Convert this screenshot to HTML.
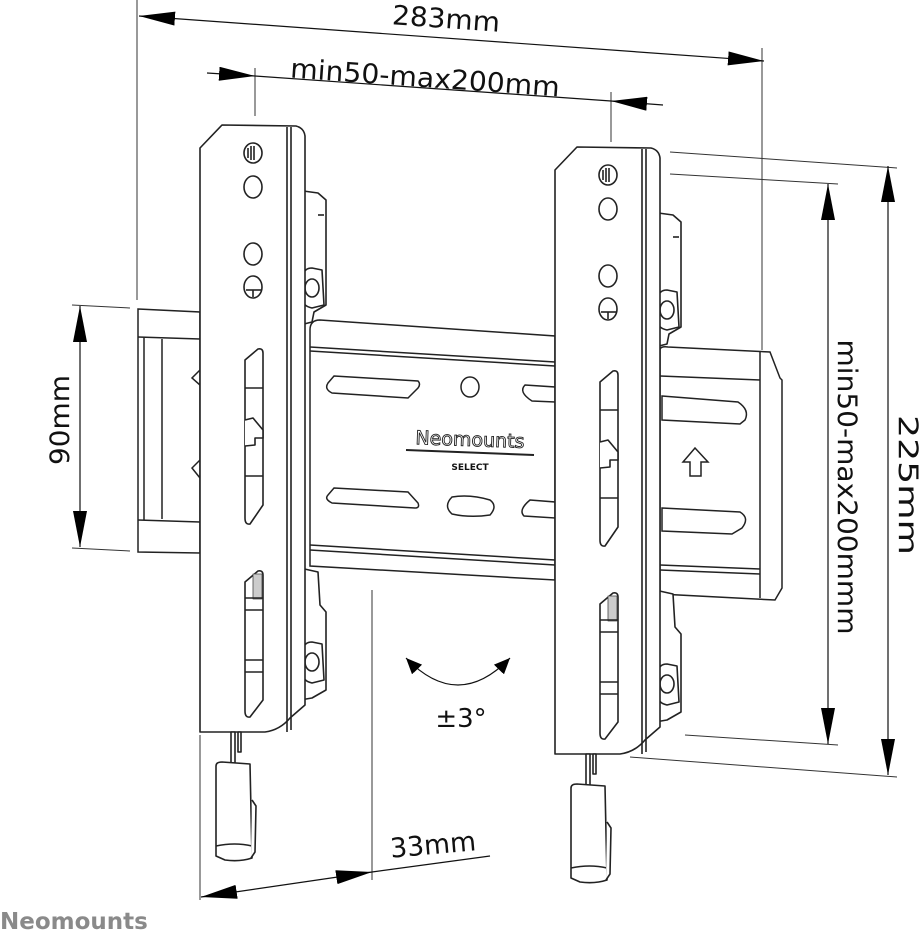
<!DOCTYPE html>
<html><head><meta charset="utf-8"><style>
html,body{margin:0;padding:0;background:#fff;}
svg{display:block;}
text{font-family:"DejaVu Sans","Liberation Sans",sans-serif;fill:#111;}
</style></head><body>
<svg width="922" height="932" viewBox="0 0 922 932" xmlns="http://www.w3.org/2000/svg">
<defs>
<g id="br" fill="#fff" stroke="#222" stroke-width="1.6" stroke-linejoin="round">
  <path d="M296,190 L318,193 L326,200 L326,305 L314,312 L312,322 L300,325 Z"/>
  <path d="M300,568 L318,572 L320,605 L326,612 L326,690 L312,698 L300,700 Z"/>
  <path d="M303,276 Q304,268 312,268 L322,270 L324,305 L312,308 Q303,306 303,300 Z"/>
  <ellipse cx="312" cy="288" rx="7" ry="9"/>
  <path d="M303,650 Q304,642 312,642 L322,644 L324,680 L312,683 Q303,681 303,674 Z"/>
  <ellipse cx="312" cy="662" rx="7" ry="9"/>
  <line x1="318" y1="215" x2="324" y2="215"/>
  <path d="M200,148 L222,125 L296,126 Q304,128 305,136 L305,705 L290,718 Q280,730 265,732 L200,732 Z"/>
  <line x1="287" y1="127" x2="287" y2="732"/>
  <line x1="291" y1="127" x2="291" y2="730"/>
  <ellipse cx="253" cy="153" rx="9" ry="10"/>
  <line x1="248" y1="148" x2="248" y2="158"/><line x1="251" y1="146" x2="251" y2="160"/><line x1="254" y1="146" x2="254" y2="160"/>
  <ellipse cx="253" cy="187" rx="9" ry="11"/>
  <ellipse cx="253" cy="254" rx="9" ry="11"/>
  <ellipse cx="253" cy="287" rx="9" ry="11"/>
  <line x1="246" y1="290" x2="261" y2="290"/><line x1="253" y1="290" x2="253" y2="297"/>
  <path d="M245,360 L258,349 Q263,348 263,353 L263,505 L250,524 Q245,525 245,518 Z"/>
  <line x1="245" y1="388" x2="263" y2="388"/>
  <line x1="245" y1="476" x2="263" y2="476"/>
  <path d="M245,420 L253,418 L263,430 L263,438 L255,438 L255,445 L245,446"/>
  <path d="M245,582 L258,571 Q263,570 263,575 L263,700 L250,717 Q245,718 245,711 Z"/>
  <rect x="253" y="574" width="9" height="25" fill="#ccc" stroke="#444" stroke-width="0.8"/>
  <line x1="245" y1="598" x2="263" y2="598"/>
  <line x1="245" y1="610" x2="263" y2="610"/>
  <line x1="245" y1="660" x2="263" y2="660"/>
  <line x1="245" y1="672" x2="263" y2="672"/>
  <rect x="231" y="732" width="4" height="32"/>
  <rect x="238" y="732" width="3" height="20"/>
  <path d="M216,766 Q216,762 222,762 L250,764 L252,858 Q240,862 225,860 L216,856 Z"/>
  <path d="M216,846 Q235,842 252,846"/>
  <path d="M252,800 L256,806 L255,852 L251,858"/>
</g>
<marker id="ah" viewBox="0 0 36 14" refX="36" refY="7" markerWidth="36" markerHeight="14" orient="auto-start-reverse" markerUnits="userSpaceOnUse">
  <path d="M0,0 L36,7 L0,14 Z" fill="#000"/>
</marker>
<marker id="ah2" viewBox="0 0 16 14" refX="16" refY="7" markerWidth="16" markerHeight="14" orient="auto-start-reverse" markerUnits="userSpaceOnUse">
  <path d="M0,0 L16,7 L0,14 Z" fill="#000"/>
</marker>
</defs>

<g stroke="#333" stroke-width="1" fill="none">
  <line x1="137" y1="0" x2="137" y2="300"/>
  <line x1="762" y1="48" x2="762" y2="350"/>
  <line x1="255" y1="68" x2="255" y2="116"/>
  <line x1="611" y1="92" x2="611" y2="142"/>
  <line x1="72" y1="305" x2="130" y2="308"/>
  <line x1="72" y1="548" x2="130" y2="551"/>
  <line x1="670" y1="152" x2="897" y2="168"/>
  <line x1="670" y1="174" x2="838" y2="184"/>
  <line x1="685" y1="735" x2="838" y2="745"/>
  <line x1="630" y1="757" x2="897" y2="777"/>
  <line x1="372" y1="590" x2="372" y2="880"/>
  <line x1="200" y1="735" x2="200" y2="900"/>
</g>
<g stroke="#111" stroke-width="1.2" fill="none">
  <line x1="139" y1="16" x2="764" y2="61" marker-start="url(#ah)" marker-end="url(#ah)"/>
  <line x1="207" y1="73" x2="255" y2="76" marker-end="url(#ah)"/>
  <line x1="255" y1="76" x2="611" y2="101"/>
  <line x1="663" y1="105" x2="611" y2="101" marker-end="url(#ah)"/>
  <line x1="80" y1="306" x2="80" y2="547" marker-start="url(#ah)" marker-end="url(#ah)"/>
  <line x1="888" y1="166" x2="888" y2="775" marker-start="url(#ah)" marker-end="url(#ah)"/>
  <line x1="828" y1="184" x2="828" y2="744" marker-start="url(#ah)" marker-end="url(#ah)"/>
  <line x1="201" y1="897" x2="372" y2="872" marker-start="url(#ah)" marker-end="url(#ah)"/>
  <line x1="372" y1="872" x2="490" y2="856"/>
  <path d="M406,658 Q458,712 510,658" marker-start="url(#ah2)" marker-end="url(#ah2)"/>
</g>

<text x="446" y="28" font-size="27" text-anchor="middle" textLength="108" lengthAdjust="spacingAndGlyphs" transform="rotate(4 446 20)">283mm</text>
<text x="425" y="87" font-size="27" text-anchor="middle" textLength="270" lengthAdjust="spacingAndGlyphs" transform="rotate(4 425 78)">min50-max200mm</text>
<text x="0" y="0" font-size="27" text-anchor="middle" textLength="90" lengthAdjust="spacingAndGlyphs" transform="translate(69 420) rotate(-90)">90mm</text>
<text x="0" y="0" font-size="27" text-anchor="middle" textLength="140" lengthAdjust="spacingAndGlyphs" transform="translate(899 485) rotate(90)">225mm</text>
<text x="0" y="0" font-size="27" text-anchor="middle" textLength="295" lengthAdjust="spacingAndGlyphs" transform="translate(838 487) rotate(90)">min50-max200mmm</text>
<text x="433" y="854" font-size="27" text-anchor="middle" textLength="86" lengthAdjust="spacingAndGlyphs" transform="rotate(-5 433 845)">33mm</text>
<text x="461" y="727" font-size="26" text-anchor="middle">±3°</text>

<g fill="#fff" stroke="#222" stroke-width="1.5">
  <path d="M138,309 L200,312 L200,553 L138,552 Z"/>
  <line x1="138" y1="337" x2="200" y2="339"/>
  <line x1="138" y1="520" x2="200" y2="522"/>
  <line x1="144" y1="337" x2="144" y2="520"/>
  <line x1="162" y1="339" x2="162" y2="519"/>
  <path d="M200,370 L192,378 L200,385" fill="none"/>
  <path d="M200,460 L192,468 L200,478" fill="none"/>
  <path d="M310,330 Q310,320 320,320 L555,336 L555,580 L310,566 Z"/>
  <line x1="310" y1="347" x2="555" y2="362"/>
  <line x1="310" y1="351" x2="555" y2="366"/>
  <line x1="310" y1="545" x2="555" y2="560"/>
  <line x1="310" y1="550" x2="555" y2="565"/>
  <path d="M334,376 L418,381 Q421,384 418,388 L408,398 L332,393 Q324,389 328,383 Z"/>
  <path d="M334,488 L408,492 L418,503 Q420,508 415,508 L332,503 Q324,499 328,495 Z"/>
  <path d="M525,385 L555,387 L555,402 L532,401 Q518,392 525,385 Z"/>
  <path d="M530,500 L555,502 L555,518 L524,516 Q518,510 530,500 Z"/>
  <ellipse cx="470" cy="387" rx="9" ry="10"/>
  <path d="M452,497 Q470,494 490,500 Q498,506 490,515 Q470,518 452,514 Q443,506 452,497 Z"/>
  <line x1="406" y1="450" x2="534" y2="455" stroke-width="2"/>
  <path d="M660,350 Q660,346 668,347 L770,352 L780,378 L782,380 L782,588 L775,600 L660,594 Z"/>
  <line x1="760" y1="351" x2="760" y2="598"/>
  <line x1="660" y1="376" x2="760" y2="380"/>
  <line x1="660" y1="565" x2="760" y2="569"/>
  <line x1="660" y1="570" x2="760" y2="574"/>
  <path d="M662,396 L738,402 Q750,410 745,420 L740,424 L662,420 Z"/>
  <path d="M662,508 L740,512 Q750,518 742,528 L732,534 L662,531 Z"/>
  <path d="M695,448 L708,462 L701,462 L701,476 L690,476 L690,462 L683,462 Z"/>
</g>
<text x="470" y="446" font-size="19" text-anchor="middle" transform="rotate(2 470 440)" style="fill:#fff;stroke:#222;stroke-width:0.9">Neomounts</text>
<text x="470" y="470" font-size="9" font-weight="bold" text-anchor="middle">SELECT</text>

<use href="#br"/>
<use href="#br" transform="translate(355 22)"/>

<text x="0" y="929" font-size="23" font-weight="bold" style="fill:#8a8a8a">Neomounts</text>
</svg>
</body></html>
